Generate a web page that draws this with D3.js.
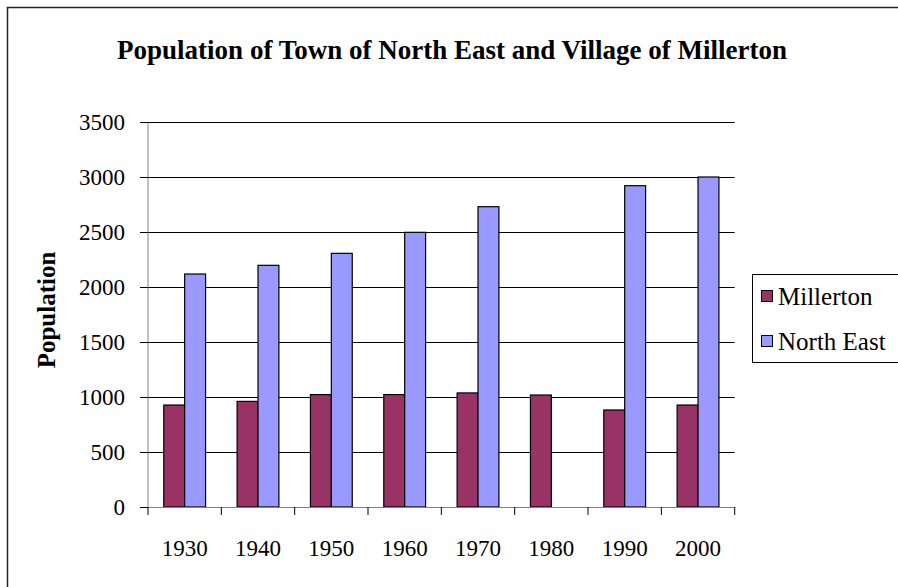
<!DOCTYPE html>
<html>
<head>
<meta charset="utf-8">
<script src="https://cdn.jsdelivr.net/npm/d3@7"></script>
<style>
  body { margin: 0; background: #fff; }
  svg { display: block; font-family: "Liberation Serif", "DejaVu Serif", serif; }
  svg text { font-family: "Liberation Serif", "DejaVu Serif", serif; fill: #000; }
</style>
</head>
<body>
<svg></svg>
<script>
var years = ["1930", "1940", "1950", "1960", "1970", "1980", "1990", "2000"];
var millerton = [927, 960, 1022, 1022, 1037, 1018, 882, 927];
var northEast = [2118, 2197, 2306, 2497, 2730, null, 2921, 3000];
var seriesNames = ["Millerton", "North East"];
var yTicks = [0, 500, 1000, 1500, 2000, 2500, 3000, 3500];

var colors = {"Millerton": "#993366", "North East": "#9999ff"};

var width = 898, height = 587;
var plot = {left: 148, right: 734.7, top: 122, bottom: 507};

var svg = d3.select("svg")
    .attr("width", width)
    .attr("height", height);

// outer chart frame (runs off the right and bottom edges)
svg.append("rect")
    .attr("x", 7.5)
    .attr("y", 7.5)
    .attr("width", 910)
    .attr("height", 610)
    .attr("fill", "#fff")
    .attr("stroke", "#222")
    .attr("stroke-width", 1.5);

svg.append("text")
    .attr("x", 452)
    .attr("y", 59)
    .attr("text-anchor", "middle")
    .attr("font-size", 27)
    .attr("font-weight", "bold")
    .text("Population of Town of North East and Village of Millerton");

var x0 = d3.scaleBand()
    .domain(years)
    .range([plot.left, plot.right])
    .paddingInner(0.43)
    .paddingOuter(0.215);

var x1 = d3.scaleBand()
    .domain(seriesNames)
    .range([0, x0.bandwidth()]);

var y = d3.scaleLinear()
    .domain([0, 3500])
    .range([plot.bottom, plot.top]);

// gridlines
svg.append("g")
    .selectAll("line")
    .data(yTicks.slice(1))
    .enter()
    .append("line")
    .attr("x1", plot.left)
    .attr("x2", plot.right)
    .attr("y1", function (d) { return Math.round(y(d)) + 0.5; })
    .attr("y2", function (d) { return Math.round(y(d)) + 0.5; })
    .attr("stroke", "#000")
    .attr("stroke-width", 1);

// bars
var rows = years.map(function (yr, i) {
    return {year: yr, values: [
        {name: "Millerton", value: millerton[i]},
        {name: "North East", value: northEast[i]}
    ]};
});

svg.append("g")
    .selectAll("g")
    .data(rows)
    .enter()
    .append("g")
    .attr("transform", function (d) { return "translate(" + x0(d.year) + ",0)"; })
    .selectAll("rect")
    .data(function (d) { return d.values.filter(function (v) { return v.value != null; }); })
    .enter()
    .append("rect")
    .attr("x", function (d) { return x1(d.name); })
    .attr("y", function (d) { return y(d.value); })
    .attr("width", x1.bandwidth())
    .attr("height", function (d) { return y(0) - y(d.value); })
    .attr("fill", function (d) { return colors[d.name]; })
    .attr("stroke", "#000")
    .attr("stroke-width", 1.2);

// y axis
var yAxis = d3.axisLeft(y)
    .tickValues(yTicks)
    .tickSize(8)
    .tickPadding(15)
    .tickFormat(d3.format("d"));

var gy = svg.append("g")
    .attr("transform", "translate(" + plot.left + ",0)")
    .call(yAxis)
    .attr("font-family", null)
    .attr("font-size", 23);
gy.select(".domain").attr("stroke", "#808080").attr("d", "M0," + plot.top + "V" + plot.bottom);
gy.selectAll(".tick line").attr("stroke", "#000");

// x axis: ticks sit between categories
svg.append("line")
    .attr("x1", plot.left)
    .attr("x2", plot.right)
    .attr("y1", plot.bottom + 0.5)
    .attr("y2", plot.bottom + 0.5)
    .attr("stroke", "#808080");

var step = x0.step();
svg.append("g")
    .selectAll("line")
    .data(d3.range(years.length + 1))
    .enter()
    .append("line")
    .attr("x1", function (i) { return plot.left + i * step; })
    .attr("x2", function (i) { return plot.left + i * step; })
    .attr("y1", plot.bottom)
    .attr("y2", plot.bottom + 8)
    .attr("stroke", "#000");

svg.append("g")
    .selectAll("text")
    .data(years)
    .enter()
    .append("text")
    .attr("x", function (d) { return x0(d) + x0.bandwidth() / 2; })
    .attr("y", 556)
    .attr("text-anchor", "middle")
    .attr("font-size", 23)
    .text(function (d) { return d; });

// y axis title
svg.append("text")
    .attr("transform", "translate(46,310) rotate(-90)")
    .attr("text-anchor", "middle")
    .attr("dy", "0.35em")
    .attr("font-size", 25)
    .attr("font-weight", "bold")
    .text("Population");

// legend
var legend = svg.append("g");
legend.append("rect")
    .attr("x", 752.5)
    .attr("y", 274.5)
    .attr("width", 160)
    .attr("height", 88)
    .attr("fill", "#fff")
    .attr("stroke", "#000");

var item = legend.selectAll("g")
    .data(seriesNames)
    .enter()
    .append("g")
    .attr("transform", function (d, i) { return "translate(761," + (296 + i * 45) + ")"; });

item.append("rect")
    .attr("x", 0.5)
    .attr("y", -5.5)
    .attr("width", 11)
    .attr("height", 11)
    .attr("fill", function (d) { return colors[d]; })
    .attr("stroke", "#000");

item.append("text")
    .attr("x", 17)
    .attr("dy", "0.35em")
    .attr("font-size", 25)
    .text(function (d) { return d; });
</script>
</body>
</html>
